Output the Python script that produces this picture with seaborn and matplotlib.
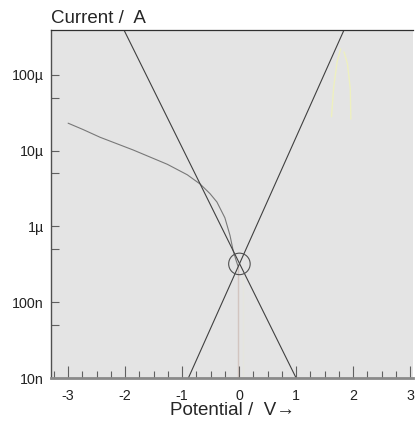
import numpy as np
import pandas as pd
import matplotlib
matplotlib.use("Agg")
import matplotlib.pyplot as plt
from matplotlib.ticker import FixedLocator, FixedFormatter, MultipleLocator
import seaborn as sns

sns.set_theme(style="ticks")
plt.rcParams['font.family'] = ['Liberation Sans', 'DejaVu Sans']
plt.rcParams['axes.unicode_minus'] = False

# measured polarisation curve (potential in V, current in A)
curve_v = [-3.0, -2.74, -2.44, -1.86, -1.26, -0.91, -0.68, -0.51, -0.39, -0.25, -0.16, -0.105, -0.05, -0.02]
curve_i = [2.3e-5, 1.9e-5, 1.5e-5, 1.02e-5, 6.6e-6, 4.8e-6, 3.6e-6, 2.7e-6, 2.1e-6, 1.3e-6, 7.6e-7, 4.8e-7, 3.5e-7, 3.0e-7]

# vertical drop of the current near open-circuit potential
drop_v = [-0.02, -0.02]
drop_i = [3.0e-7, 1e-8]

# faint anodic traces (yellow)
anodic_v = [1.62, 1.66, 1.72, 1.78]
anodic_i = [2.8e-5, 7.0e-5, 1.5e-4, 2.2e-4]
anodic2_v = [1.96, 1.95, 1.90, 1.84]
anodic2_i = [2.6e-5, 6.5e-5, 1.4e-4, 2.0e-4]
band_v = [0.06, 0.06]
band_i = [1e-8, 2.2e-7]

# Tafel extrapolation lines (end points)
cath_v = [-2.02, 1.0]
cath_i = [3.9e-4, 1e-8]
anod_v = [-0.89, 1.84]
anod_i = [1e-8, 3.9e-4]

# corrosion point
corr_v = [0.005]
corr_i = [3.2e-7]

y_ticks = [1e-8, 1e-7, 1e-6, 1e-5, 1e-4]
y_labels = ["10n", "100n", "1\u00b5", "10\u00b5", "100\u00b5"]
y_minor = [5e-8, 5e-7, 5e-6, 5e-5]
x_ticks = [-3, -2, -1, 0, 1, 2, 3]

fig = plt.figure(figsize=(4.15, 4.26), dpi=100)
ax = fig.add_axes([51 / 415, 48 / 426, 362 / 415, 348 / 426])
ax.set_facecolor("#e4e4e4")

sns.lineplot(x=band_v, y=band_i, ax=ax, color="#eaecc8", lw=3, sort=False)
sns.lineplot(x=anodic_v, y=anodic_i, ax=ax, color="#eef0c0", lw=1.0, sort=False)
sns.lineplot(x=anodic2_v, y=anodic2_i, ax=ax, color="#eef0c0", lw=1.0, sort=False)
sns.lineplot(x=curve_v, y=curve_i, ax=ax, color="#787878", lw=0.8, sort=False)
sns.lineplot(x=drop_v, y=drop_i, ax=ax, color="#8a4a30", lw=0.9, sort=False)
sns.lineplot(x=cath_v, y=cath_i, ax=ax, color="#404040", lw=0.8, sort=False)
sns.lineplot(x=anod_v, y=anod_i, ax=ax, color="#404040", lw=0.8, sort=False)
sns.scatterplot(x=corr_v, y=corr_i, ax=ax, s=240, facecolor="none", edgecolor="#505050", linewidth=0.8, zorder=5)

ax.set_yscale("log")
ax.set_xlim(-3.3, 3.05)
ax.set_ylim(1e-8, 3.9e-4)

ax.yaxis.set_major_locator(FixedLocator(y_ticks))
ax.yaxis.set_major_formatter(FixedFormatter(y_labels))
ax.yaxis.set_minor_locator(FixedLocator(y_minor))
ax.xaxis.set_major_locator(FixedLocator(x_ticks))
ax.xaxis.set_minor_locator(MultipleLocator(0.25))

ax.tick_params(axis="both", which="both", direction="in", colors="#606060", labelcolor="#222222", labelsize=10.3, width=0.8)
ax.tick_params(axis="y", which="major", length=6, pad=5)
ax.tick_params(axis="y", which="minor", length=6)
ax.tick_params(axis="x", which="major", length=9, pad=8)
ax.tick_params(axis="x", which="minor", length=5)

ax.spines["right"].set_visible(False)
ax.spines["top"].set_color("#303030")
ax.spines["top"].set_linewidth(0.9)
ax.spines["left"].set_color("#505050")
ax.spines["left"].set_linewidth(1.0)
ax.spines["bottom"].set_color("#8a8a8a")
ax.spines["bottom"].set_linewidth(2.0)

ax.set_xlabel("Potential /  V\u2192", fontsize=13.5, labelpad=-1)
ax.set_ylabel("")
ax.text(0.0, 1.008, "Current /  A", transform=ax.transAxes, fontsize=13.5, ha="left", va="bottom")

fig.savefig("out.png", dpi=100)
